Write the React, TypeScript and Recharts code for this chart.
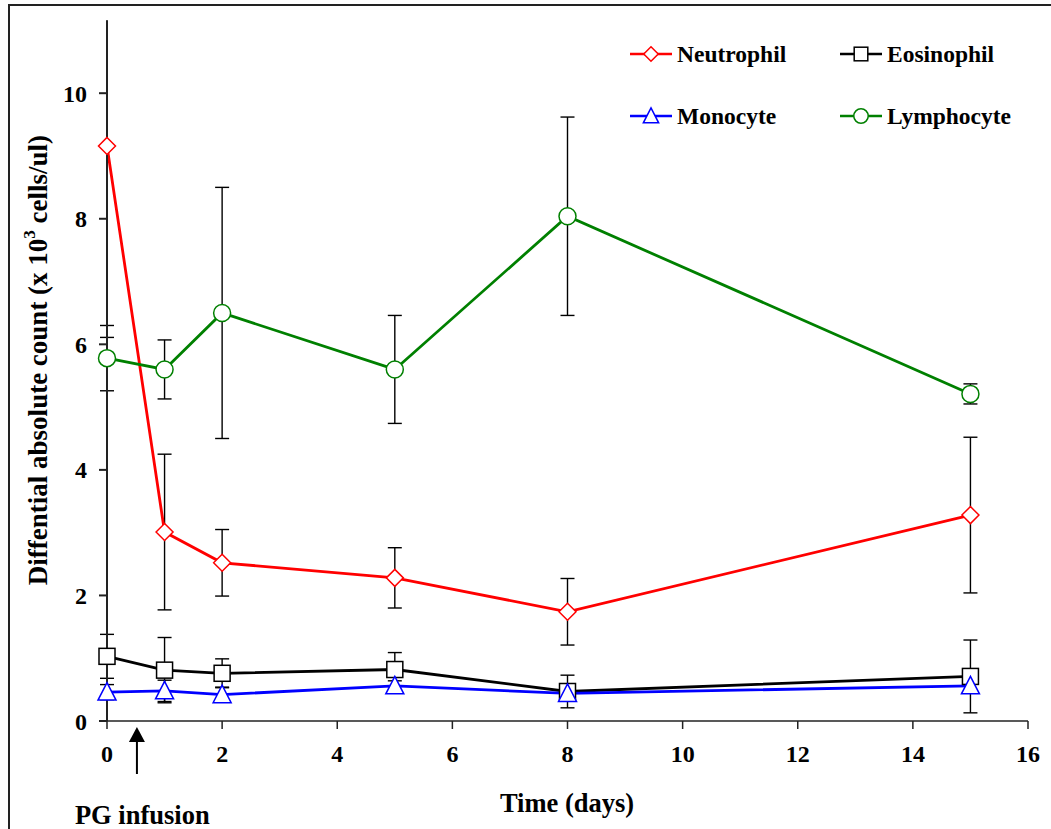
import React from 'react';
import { LineChart, Line, XAxis, YAxis, ErrorBar, ReferenceDot } from 'recharts';

// Sampling days after infusion
const days = [0, 1, 2, 5, 8, 15];

// Mean counts (x 10^3 cells/ul) and SD for each cell type
const neutrophil = [9.16, 3.01, 2.52, 2.28, 1.74, 3.28];
const neutrophilErr = [3.05, 1.24, 0.53, 0.48, 0.53, 1.24];
const eosinophil = [1.03, 0.81, 0.76, 0.82, 0.47, 0.71];
const eosinophilErr = [0.35, 0.52, 0.23, 0.27, 0.26, 0.58];
const monocyte = [0.46, 0.48, 0.42, 0.56, 0.44, 0.56];
const monocyteErr = [0.12, 0.17, 0.12, 0.08, 0.08, 0.1];
const lymphocyte = [5.78, 5.6, 6.5, 5.6, 8.04, 5.21];
const lymphocyteErr = [0.52, 0.47, 2.0, 0.86, 1.58, 0.16];

const xTicks = [0, 2, 4, 6, 8, 10, 12, 14, 16];
const yTicks = [0, 2, 4, 6, 8, 10];

const FONT = "'Times New Roman', 'Liberation Serif', serif";

const data = days.map((day, i) => ({
  day,
  neutrophil: neutrophil[i],
  neutrophilErr: neutrophilErr[i],
  eosinophil: eosinophil[i],
  eosinophilErr: eosinophilErr[i],
  monocyte: monocyte[i],
  monocyteErr: monocyteErr[i],
  lymphocyte: lymphocyte[i],
  lymphocyteErr: lymphocyteErr[i],
}));

type Kind = 'diamond' | 'square' | 'triangle' | 'circle';

const series: { key: string; name: string; color: string; kind: Kind }[] = [
  { key: 'neutrophil', name: 'Neutrophil', color: '#ff0000', kind: 'diamond' },
  { key: 'eosinophil', name: 'Eosinophil', color: '#000000', kind: 'square' },
  { key: 'monocyte', name: 'Monocyte', color: '#0000ff', kind: 'triangle' },
  { key: 'lymphocyte', name: 'Lymphocyte', color: '#008000', kind: 'circle' },
];

const Marker = ({ kind, cx, cy, color, s = 1 }: { kind: Kind; cx: number; cy: number; color: string; s?: number }) => {
  const common = { fill: '#ffffff', stroke: color, strokeWidth: 1.5 };
  if (kind === 'diamond') {
    const r = 8.5 * s;
    return <polygon points={`${cx},${cy - r} ${cx + r},${cy} ${cx},${cy + r} ${cx - r},${cy}`} {...common} />;
  }
  if (kind === 'square') {
    const h = 8 * s;
    return <rect x={cx - h} y={cy - h} width={2 * h} height={2 * h} {...common} />;
  }
  if (kind === 'triangle') {
    const w = 9 * s;
    return <polygon points={`${cx},${cy - 9.5 * s} ${cx + w},${cy + 8 * s} ${cx - w},${cy + 8 * s}`} {...common} />;
  }
  return <circle cx={cx} cy={cy} r={8.5 * s} {...common} />;
};

// Two-column key in the upper right
const LegendBox = () => {
  const cols = [630, 840];
  const rows = [54, 116];
  return (
    <>
      {series.map((s, i) => (
        <div
          key={s.key}
          style={{
            position: 'absolute',
            left: cols[i % 2],
            top: rows[Math.floor(i / 2)] - 14,
            display: 'flex',
            alignItems: 'center',
            height: 28,
          }}
        >
          <svg width={42} height={24}>
            <line x1={0} y1={12} x2={42} y2={12} stroke={s.color} strokeWidth={2.5} />
            <Marker kind={s.kind} cx={21} cy={12} color={s.color} s={0.85} />
          </svg>
          <span style={{ fontFamily: FONT, fontWeight: 'bold', fontSize: 23.5, marginLeft: 5, color: '#000' }}>
            {s.name}
          </span>
        </div>
      ))}
    </>
  );
};

const InfusionArrow = (props: any) => {
  const { cx, cy } = props;
  return (
    <g>
      <line x1={cx} y1={cy + 53} x2={cx} y2={cy + 18} stroke="#000" strokeWidth={2} />
      <polygon points={`${cx},${cy + 6} ${cx - 8},${cy + 21} ${cx + 8},${cy + 21}`} fill="#000" />
      <text x={cx - 62} y={cy + 103} fontFamily={FONT} fontWeight="bold" fontSize={26.5} fill="#000">
        PG infusion
      </text>
    </g>
  );
};

const YLabel = () => (
  <text
    transform="rotate(-90)"
    x={-360}
    y={47}
    textAnchor="middle"
    fontFamily={FONT}
    fontWeight="bold"
    fontSize={27}
    fill="#000"
  >
    Diffential absolute count (x 10
    <tspan dy={-12} fontSize={17}>3</tspan>
    <tspan dy={12}> cells/ul)</tspan>
  </text>
);

const XLabel = () => (
  <text x={567} y={812} textAnchor="middle" fontFamily={FONT} fontWeight="bold" fontSize={26.5} fill="#000">
    Time (days)
  </text>
);

const tickStyle = { fontFamily: FONT, fontWeight: 'bold' as const, fontSize: 24, fill: '#000' };

export default function App() {
  return (
    <div style={{ position: 'absolute', left: 0, top: 0, width: 1051, height: 829, overflow: 'hidden', background: '#fff' }}>
      <div style={{ position: 'absolute', left: 0, top: 0 }}>
        <LineChart width={1051} height={829} data={data} margin={{ top: 21, right: 23, left: 0, bottom: 0 }}>
          <XAxis
            dataKey="day"
            type="number"
            domain={[0, 16]}
            ticks={xTicks}
            tickSize={8}
            tickMargin={16}
            height={108}
            tick={tickStyle}
            stroke="#222"
            strokeWidth={1.5}
            label={<XLabel />}
          />
          <YAxis
            type="number"
            domain={[0, 11.15]}
            allowDataOverflow
            ticks={yTicks}
            width={107}
            tickSize={8}
            tickMargin={12}
            tick={tickStyle}
            stroke="#222"
            strokeWidth={2}
            label={<YLabel />}
          />
          {series.map((s) => (
            <Line
              key={s.key}
              dataKey={s.key}
              name={s.name}
              type="linear"
              stroke={s.color}
              strokeWidth={2.8}
              isAnimationActive={false}
              dot={(p: any) => <Marker key={`${s.key}-${p.index}`} kind={s.kind} cx={p.cx} cy={p.cy} color={s.color} />}
              activeDot={false}
            >
              <ErrorBar dataKey={`${s.key}Err`} direction="y" width={7} stroke="#000" strokeWidth={1.4} />
            </Line>
          ))}
          <ReferenceDot x={0.52} y={0} ifOverflow="visible" shape={(p: any) => <InfusionArrow {...p} />} />
        </LineChart>
      </div>
      {/* the day-0 neutrophil bar runs past the top of the value axis; trim it there */}
      <div style={{ position: 'absolute', left: 96, top: 0, width: 22, height: 20, background: '#fff' }} />
      <div
        style={{
          position: 'absolute',
          left: 8,
          top: 4,
          width: 1100,
          height: 900,
          border: '2px solid #222',
        }}
      />
      <LegendBox />
    </div>
  );
}
